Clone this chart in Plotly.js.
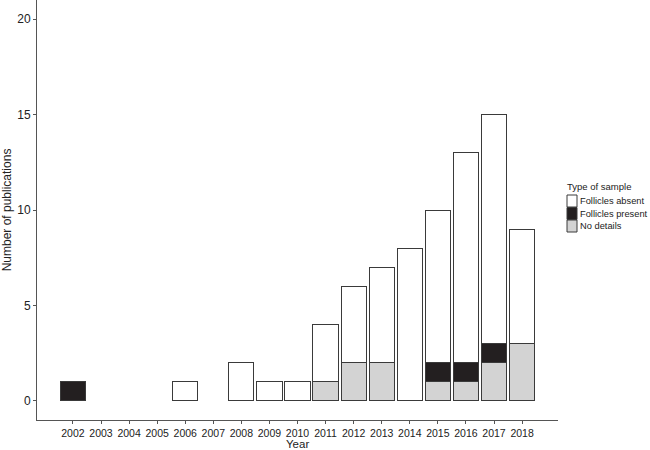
<!DOCTYPE html>
<html>
<head>
<meta charset="utf-8">
<script src="https://cdn.plot.ly/plotly-3.0.1.min.js"></script>
<style>body{margin:0;padding:0;background:#fff;} #chart{width:650px;height:450px;}</style>
</head>
<body>
<div id="chart"></div>
<script>
var years = ["2002","2003","2004","2005","2006","2007","2008","2009","2010","2011","2012","2013","2014","2015","2016","2017","2018"];
var noDetails =        [null,null,null,null,null,null,null,null,null,1,2,2,null,1,1,2,3];
var folliclesPresent = [1,null,null,null,null,null,null,null,null,null,null,null,null,1,1,1,null];
var folliclesAbsent =  [null,null,null,null,1,null,2,1,1,3,4,5,8,8,11,12,6];
var seriesNames = ["No details","Follicles present","Follicles absent"];
var seriesColors = ["#d3d3d3","#231f20","#ffffff"];
var yTicks = [0,5,10,15,20];
var legendTitle = "Type of sample";

var seriesData = [noDetails, folliclesPresent, folliclesAbsent];
var traces = seriesData.map(function(d,i){
  return {
    type:'bar', x: years, y: d, name: seriesNames[i],
    marker:{color: seriesColors[i], line:{color:'#3a3a3a', width:1}},
    width: 0.9, showlegend:false
  };
});

var fam = '"Liberation Sans", Arial, sans-serif';
var M = {l:37, r:92, t:0, b:30}, W = 650, H = 450;
var pw = W - M.l - M.r, ph = H - M.t - M.b;
function px(x){ return (x - M.l) / pw; }
function py(y){ return (H - M.b - y) / ph; }

// manual legend (top to bottom: reversed stack order)
var shapes = [], annotations = [];
annotations.push({xref:'paper', yref:'paper', x:px(565), y:py(186), xanchor:'left', yanchor:'middle',
  text:legendTitle, showarrow:false, font:{family:fam, size:9.5, color:'#222'}});
var order = [2,1,0];
order.forEach(function(si, k){
  var top = 195 + k*12.5;
  shapes.push({type:'rect', xref:'paper', yref:'paper', x0:px(567), x1:px(577), y0:py(top), y1:py(top+12),
    fillcolor:seriesColors[si], line:{color:'#3a3a3a', width:1}});
  annotations.push({xref:'paper', yref:'paper', x:px(578), y:py(top+6), xanchor:'left', yanchor:'middle',
    text:seriesNames[si], showarrow:false, font:{family:fam, size:9.3, color:'#222'}});
});
annotations.push({xref:'paper', yref:'paper', x:0.5, y:py(444), xanchor:'center', yanchor:'middle',
  text:'Year', showarrow:false, font:{family:fam, size:11.5, color:'#222'}});

var layout = {
  width:W, height:H,
  margin:M,
  barmode:'stack',
  paper_bgcolor:'#fff', plot_bgcolor:'#fff',
  font: {family: fam, size:12, color:'#222'},
  showlegend:false,
  shapes: shapes,
  annotations: annotations,
  xaxis:{
    type:'category', range:[-1.28, 16+1.28],
    showline:true, linecolor:'#555', linewidth:1,
    ticks:'outside', ticklen:3, tickcolor:'#555',
    showgrid:false, zeroline:false, tickangle:0, automargin:false,
    tickfont:{family: fam, size:10.5, color:'#222'}
  },
  yaxis:{
    range:[-1, 21], automargin:false,
    tickvals: yTicks, ticktext: yTicks.map(String),
    showline:true, linecolor:'#555', linewidth:1,
    ticks:'outside', ticklen:3, tickcolor:'#555',
    showgrid:false, zeroline:false,
    tickfont:{family: fam, size:12, color:'#222'},
    title:{text:'Number of publications', font:{family: fam, size:12, color:'#222'}, standoff:6}
  }
};
Plotly.newPlot('chart', traces, layout, {displayModeBar:false, staticPlot:true});
</script>
</body>
</html>
